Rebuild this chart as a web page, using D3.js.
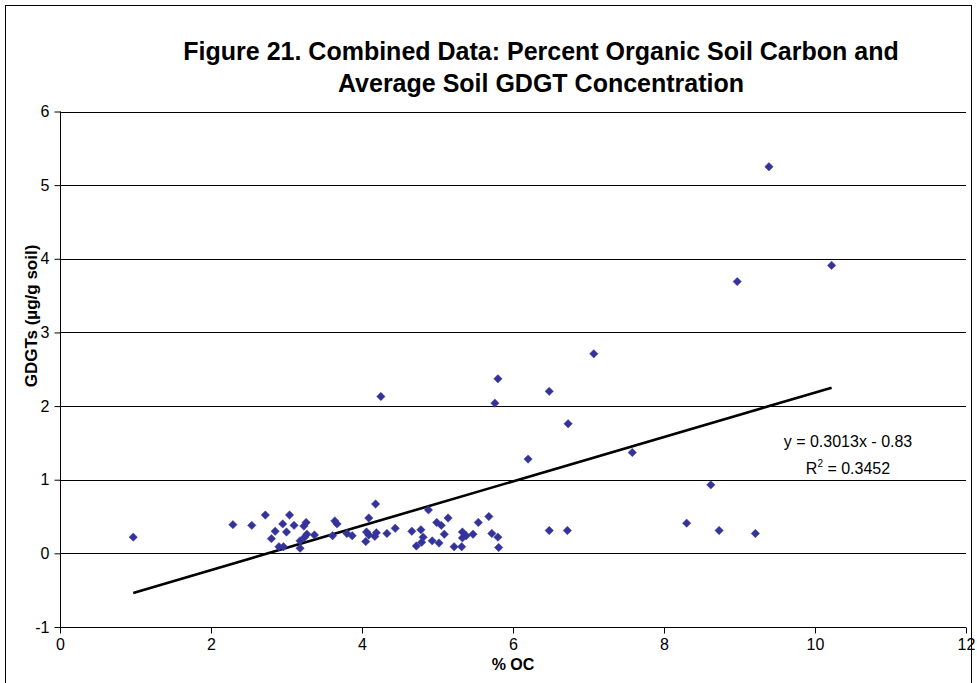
<!DOCTYPE html>
<html>
<head>
<meta charset="utf-8">
<script src="https://cdn.jsdelivr.net/npm/d3@7"></script>
<style>
  html, body { margin: 0; padding: 0; background: #fff; }
  svg { display: block; }
  text { font-family: "Liberation Sans", Arial, sans-serif; fill: #000; }
</style>
</head>
<body>
<svg id="chart" width="977" height="683"></svg>
<script>
// ---- Data ----
const titleLines = ["Figure 21. Combined Data: Percent Organic Soil Carbon and",
                    "Average Soil GDGT Concentration"];
const xLabel = "% OC";
const yLabel = "GDGTs (\u00b5g/g soil)";
const xTicks = [0, 2, 4, 6, 8, 10, 12];
const yTicks = [-1, 0, 1, 2, 3, 4, 5, 6];

const percentOC = [0.97, 2.29, 2.54, 2.72, 3.04, 2.95, 3.10, 3.26, 3.23, 2.85,
  2.80, 3.00, 3.27, 3.24, 3.18, 3.37, 2.90, 2.96, 3.18, 3.64,
  3.67, 3.61, 3.80, 3.87, 4.18, 4.09, 4.06, 4.05, 4.09, 4.19,
  4.17, 4.33, 4.44, 4.25, 4.88, 4.66, 4.78, 4.81, 4.79, 4.72,
  4.99, 5.05, 5.14, 5.09, 4.93, 5.02, 5.22, 5.32, 5.33, 5.33,
  5.38, 5.47, 5.54, 5.68, 5.72, 5.80, 5.81, 5.76, 5.80, 6.20,
  6.48, 6.48, 6.72, 6.73, 7.07, 7.58, 8.30, 8.62, 8.73, 9.21,
  8.97, 9.39, 10.22];
const gdgt = [0.22, 0.39, 0.38, 0.52, 0.52, 0.40, 0.38, 0.42, 0.37, 0.30,
  0.20, 0.29, 0.26, 0.22, 0.17, 0.25, 0.09, 0.09, 0.07, 0.44,
  0.40, 0.24, 0.27, 0.24, 0.67, 0.48, 0.29, 0.16, 0.25, 0.28,
  0.23, 0.27, 0.34, 2.13, 0.59, 0.30, 0.32, 0.22, 0.15, 0.10,
  0.42, 0.38, 0.48, 0.26, 0.17, 0.14, 0.09, 0.09, 0.29, 0.21,
  0.24, 0.26, 0.42, 0.50, 0.27, 0.22, 0.08, 2.04, 2.37, 1.28,
  2.20, 0.31, 0.31, 1.76, 2.71, 1.37, 0.41, 0.93, 0.31, 0.27,
  3.69, 5.25, 3.91];
const trendSlope = 0.3013;
const trendIntercept = -0.83;
const trendText = "y = 0.3013x - 0.83";
const r2Value = "0.3452";

// ---- Drawing ----
const svg = d3.select("#chart");
const plot = { left: 60, right: 966, top: 111.5, bottom: 627 };
const fontFam = "Liberation Sans, Arial, sans-serif";

const x = d3.scaleLinear().domain([0, 12]).range([plot.left, plot.right]);
const y = d3.scaleLinear().domain([-1, 6]).range([plot.bottom, plot.top]);

// outer frame
svg.append("rect")
  .attr("x", 5.5).attr("y", 5.5).attr("width", 966).attr("height", 700)
  .attr("fill", "none").attr("stroke", "#000").attr("stroke-width", 1);

// title
const title = svg.append("text")
  .attr("text-anchor", "middle")
  .style("font-weight", "bold").style("font-size", "25px");
titleLines.forEach((t, i) => {
  title.append("tspan").attr("x", 541).attr("y", 60 + i * 32).text(t);
});

// gridlines
svg.append("g").selectAll("line").data(yTicks.filter(d => d !== -1)).join("line")
  .attr("x1", plot.left).attr("x2", plot.right)
  .attr("y1", d => Math.round(y(d)) + 0.5).attr("y2", d => Math.round(y(d)) + 0.5)
  .attr("stroke", "#000").attr("stroke-width", 1);

// y axis
const yAxis = svg.append("g")
  .attr("transform", `translate(${plot.left + 0.5},0)`)
  .call(d3.axisLeft(y).tickValues(yTicks).tickSize(6).tickPadding(5).tickFormat(d => String(d)));
yAxis.selectAll("text").style("font-size", "16px").style("font-family", fontFam);
yAxis.selectAll("line, path").attr("stroke", "#000");
yAxis.select(".domain").attr("d", `M0,${y(6)}V${y(-1)}`);

// x axis
const xAxis = svg.append("g")
  .attr("transform", `translate(0,${Math.round(plot.bottom) + 0.5})`)
  .call(d3.axisBottom(x).tickValues(xTicks).tickSize(6).tickPadding(5).tickFormat(d => String(d)));
xAxis.selectAll("text").style("font-size", "16px").style("font-family", fontFam);
xAxis.selectAll("line, path").attr("stroke", "#000");
xAxis.select(".domain").attr("d", `M${x(0)},0H${x(12)}`);

// axis titles
svg.append("text")
  .attr("transform", `translate(37,316) rotate(-90)`)
  .attr("text-anchor", "middle")
  .style("font-weight", "bold").style("font-size", "17px")
  .text(yLabel);
svg.append("text")
  .attr("x", 513).attr("y", 670)
  .attr("text-anchor", "middle")
  .style("font-weight", "bold").style("font-size", "16px")
  .text(xLabel);

// trend line
const xMin = d3.min(percentOC), xMax = d3.max(percentOC);
svg.append("line")
  .attr("x1", x(xMin)).attr("y1", y(trendSlope * xMin + trendIntercept))
  .attr("x2", x(xMax)).attr("y2", y(trendSlope * xMax + trendIntercept))
  .attr("stroke", "#000").attr("stroke-width", 2.6);

// points
const pts = percentOC.map((v, i) => [v, gdgt[i]]);
svg.append("g").selectAll("path").data(pts).join("path")
  .attr("transform", d => `translate(${x(d[0])},${y(d[1])})`)
  .attr("d", "M0,-4.2L4.2,0L0,4.2L-4.2,0Z")
  .attr("fill", "#333399").attr("stroke", "#3a3aa0").attr("stroke-width", 0.5);

// equation
const eq = svg.append("g").style("font-size", "16px");
eq.append("text").attr("x", 848).attr("y", 447).attr("text-anchor", "middle").text(trendText);
const r2 = eq.append("text").attr("x", 848).attr("y", 474).attr("text-anchor", "middle");
r2.append("tspan").text("R");
r2.append("tspan").attr("dy", -7).style("font-size", "10px").text("2");
r2.append("tspan").attr("dy", 7).text(" = " + r2Value);
</script>
</body>
</html>
